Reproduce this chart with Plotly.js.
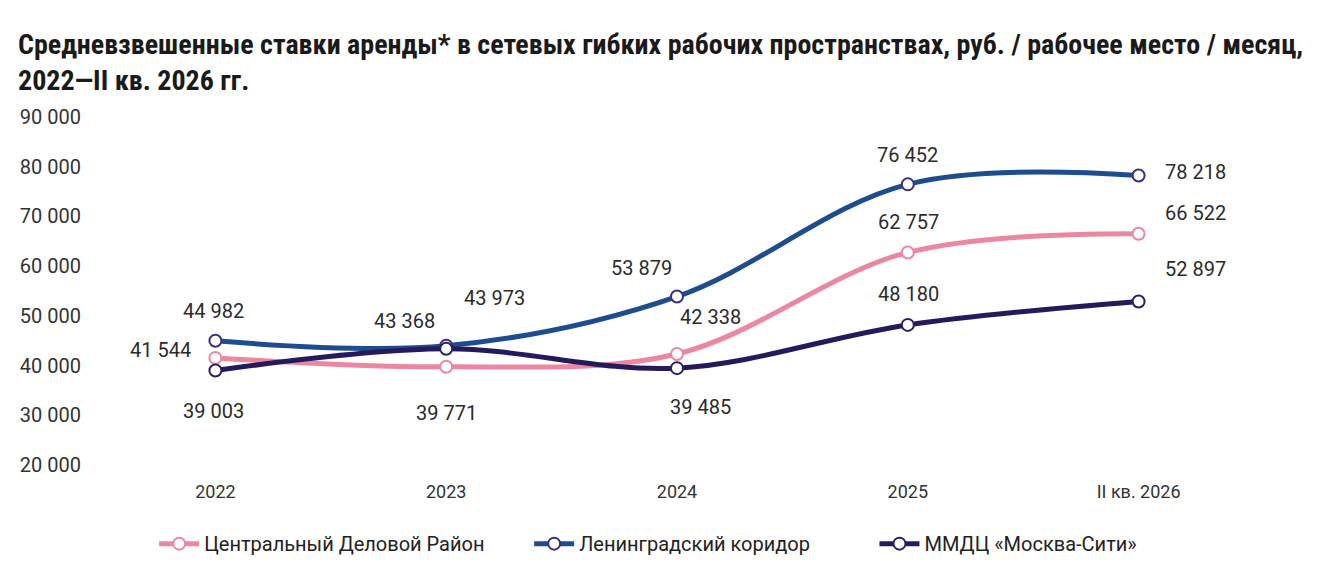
<!DOCTYPE html>
<html>
<head>
<meta charset="utf-8">
<script src="https://cdn.plot.ly/plotly-3.0.1.min.js"></script>
<style>html,body{margin:0;padding:0;background:#fff;}#chart{width:1320px;height:578px;}</style>
</head>
<body>
<div id="chart"></div>
<script>
const categories = ['2022', '2023', '2024', '2025', 'II кв. 2026'];
const seriesNames = ['Центральный Деловой Район', 'Ленинградский коридор', 'ММДЦ «Москва-Сити»'];
const cdr = [41544, 39771, 42338, 62757, 66522];
const lenin = [44982, 43973, 53879, 76452, 78218];
const city = [39003, 43368, 39485, 48180, 52897];
const yTicks = [20000, 30000, 40000, 50000, 60000, 70000, 80000, 90000];

const colors = ['#EC87A2', '#1E4C8E', '#251B5C'];
const markerLines = ['#EC87A2', '#3B2F7E', '#2A2163'];
// label offsets in pixels (x, y) per series, per point
const shiftX = [
  [-55, 0, 33, 1, 57],
  [-2, 48, -36, 0, 57],
  [-2, -42, 23, 1, 57]
];
const shiftY = [
  [8, -46, 37, 30, 21],
  [30, 48, 29, 29, 4],
  [-40, 28, -39, 31, 32]
];
const FONT = 'Roboto, sans-serif';
const TITLEFONT = 'Roboto Condensed, Liberation Sans Narrow, Roboto, sans-serif';
const fmtSp = v => String(v).replace(/\B(?=(\d{3})+(?!\d))/g, ' ');
const legendPadCount = [8, 12, 0];

const allSeries = [cdr, lenin, city];
const traces = allSeries.map((vals, i) => ({
  type: 'scatter', mode: 'lines+markers',
  x: categories, y: vals, name: seriesNames[i] + '\u00a0'.repeat(legendPadCount[i]),
  line: {color: colors[i], width: 5, shape: 'spline', smoothing: 1},
  marker: {size: 12, color: '#ffffff', line: {color: markerLines[i], width: 2}},
  hoverinfo: 'skip'
}));

const annotations = [];
allSeries.forEach((vals, i) => {
  vals.forEach((v, j) => {
    annotations.push({
      x: j, y: v, xref: 'x', yref: 'y',
      text: fmtSp(v), showarrow: false,
      xshift: shiftX[i][j], yshift: shiftY[i][j],
      font: {family: FONT, size: 20, color: '#2b2b2b'}
    });
  });
});

const layout = {
  width: 1320, height: 578,
  paper_bgcolor: '#ffffff', plot_bgcolor: '#ffffff',
  margin: {l: 100, r: 66, t: 117, b: 113},
  title: {
    text: '<b>Средневзвешенные ставки аренды* в сетевых гибких рабочих пространствах, руб. / рабочее место / месяц,<br>2022—II кв. 2026 гг.</b>',
    x: 18/1320, xanchor: 'left', xref: 'container',
    y: 1 - 54/578, yanchor: 'top', yref: 'container',
    font: {family: TITLEFONT, size: 28, color: '#1a1a1a'}
  },
  xaxis: {
    type: 'category', range: [-0.5, 4.5],
    showgrid: false, zeroline: false, showline: false, ticks: '',
    tickfont: {family: FONT, size: 18, color: '#333333'},
    ticklabelstandoff: 14
  },
  yaxis: {
    range: [20000, 90000], tickvals: yTicks, ticktext: yTicks.map(fmtSp),
    showgrid: false, zeroline: false, showline: false, ticks: '',
    tickfont: {family: FONT, size: 20, color: '#333333'},
    ticklabelstandoff: 18
  },
  showlegend: true,
  legend: {
    orientation: 'h', x: 0.475, xanchor: 'center', y: -0.17, yanchor: 'top',
    font: {family: FONT, size: 20, color: '#222222'},
    itemwidth: 40, traceorder: 'normal'
  },
  annotations: annotations
};

Plotly.newPlot('chart', traces, layout, {displayModeBar: false, staticPlot: true});
</script>
</body>
</html>
